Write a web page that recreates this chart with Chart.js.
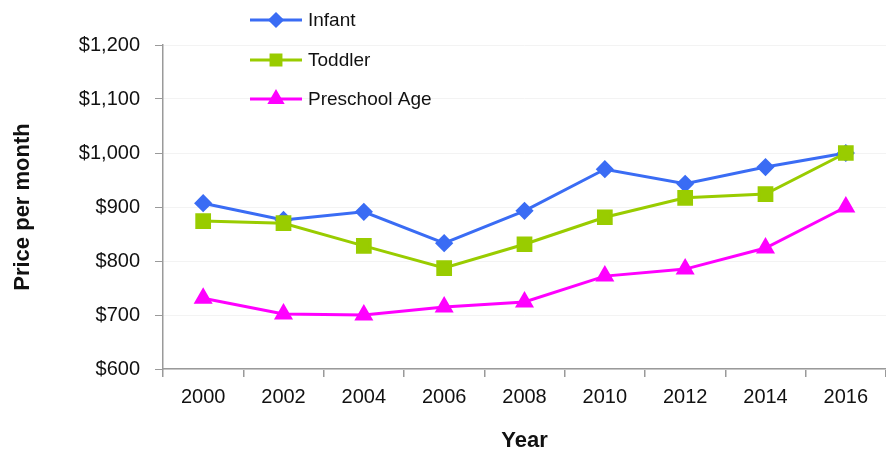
<!DOCTYPE html>
<html>
<head>
<meta charset="utf-8">
<script src="https://cdn.jsdelivr.net/npm/chart.js@4"></script>
<style>
  html, body { margin: 0; padding: 0; background: #fff; overflow: hidden; }
  #wrap { position: relative; width: 886px; height: 451px; }
</style>
</head>
<body>
<div id="wrap"><canvas id="c"></canvas></div>
<script>
const years = ["2000", "2002", "2004", "2006", "2008", "2010", "2012", "2014", "2016"];
const infant = [907, 876, 891, 833, 893, 970, 943, 974, 1000];
const toddler = [874, 870, 828, 787, 831, 881, 917, 924, 1000];
const preschool = [731, 702, 700, 715, 724, 772, 785, 824, 900];
const yTicks = [600, 700, 800, 900, 1000, 1100, 1200];

const FONT = "'Liberation Sans', Arial, sans-serif";

// vertical legend in the top-left, drawn onto the canvas
const sideLegend = {
  id: "sideLegend",
  afterDraw(chart) {
    const ctx = chart.ctx;
    const x0 = 250, x1 = 302, rowY = [20, 60, 99];
    chart.data.datasets.forEach(function (ds, i) {
      const y = rowY[i];
      ctx.save();
      ctx.strokeStyle = ds.borderColor;
      ctx.lineWidth = 3;
      ctx.beginPath();
      ctx.moveTo(x0, y);
      ctx.lineTo(x1, y);
      ctx.stroke();
      Chart.helpers.drawPoint(ctx, {
        pointStyle: ds.pointStyle,
        radius: ds.legendRadius,
        borderWidth: 1,
        rotation: 0
      }, (x0 + x1) / 2, y);
      ctx.fillStyle = ds.borderColor;
      ctx.fill();
      ctx.fillStyle = "#111";
      ctx.font = "19px " + FONT;
      ctx.textBaseline = "middle";
      ctx.fillText(ds.label, 308, y + 1);
      ctx.restore();
    });
  }
};

function line(label, data, color, style, radius, legendRadius, order) {
  return {
    label: label,
    data: data,
    borderColor: color,
    backgroundColor: color,
    pointBackgroundColor: color,
    pointBorderColor: color,
    borderWidth: 3,
    pointStyle: style,
    pointRadius: radius,
    pointHoverRadius: radius,
    legendRadius: legendRadius,
    order: order,
    tension: 0
  };
}

new Chart(document.getElementById("c"), {
  type: "line",
  data: {
    labels: years,
    datasets: [
      line("Infant", infant, "#3a6cf4", "rectRot", 7, 6, 1),
      line("Toddler", toddler, "#99cc00", "rect", 9, 7, 0),
      line("Preschool Age", preschool, "#ff00ff", "triangle", 8, 7, 2)
    ]
  },
  options: {
    responsive: true,
    maintainAspectRatio: false,
    animation: false,
    layout: { autoPadding: false, padding: { top: 45, right: 0, left: 0, bottom: 0 } },
    plugins: {
      legend: { display: false },
      tooltip: { enabled: false }
    },
    scales: {
      x: {
        offset: true,
        grid: {
          offset: true,
          drawOnChartArea: false,
          color: "#9a9a9a",
          tickLength: 8,
          lineWidth: 1.5
        },
        border: { color: "#9a9a9a", width: 1.5 },
        ticks: { color: "#111", font: { family: FONT, size: 20 }, padding: 8, maxRotation: 0 },
        title: {
          display: true,
          text: "Year",
          color: "#111",
          font: { family: FONT, size: 22, weight: "bold" },
          padding: { top: 0, bottom: -3 }
        },
        afterFit: function (scale) {
          scale.height = 82;
        }
      },
      y: {
        min: 600,
        max: 1200,
        afterBuildTicks: function (scale) {
          scale.ticks = yTicks.map(function (v) { return { value: v }; });
        },
        grid: {
          color: "#f3f3f3",
          tickColor: "#9a9a9a",
          tickLength: 8,
          lineWidth: 1
        },
        border: { color: "#9a9a9a", width: 1.5 },
        ticks: {
          color: "#111",
          font: { family: FONT, size: 20 },
          padding: 15,
          callback: function (v) { return "$" + v.toLocaleString("en-US"); }
        },
        title: {
          display: true,
          text: "Price per month",
          color: "#111",
          font: { family: FONT, size: 22, weight: "bold" },
          padding: { top: 10, bottom: 0 }
        },
        afterFit: function (scale) {
          scale.width = 163;
        }
      }
    }
  },
  plugins: [sideLegend]
});
</script>
</body>
</html>
